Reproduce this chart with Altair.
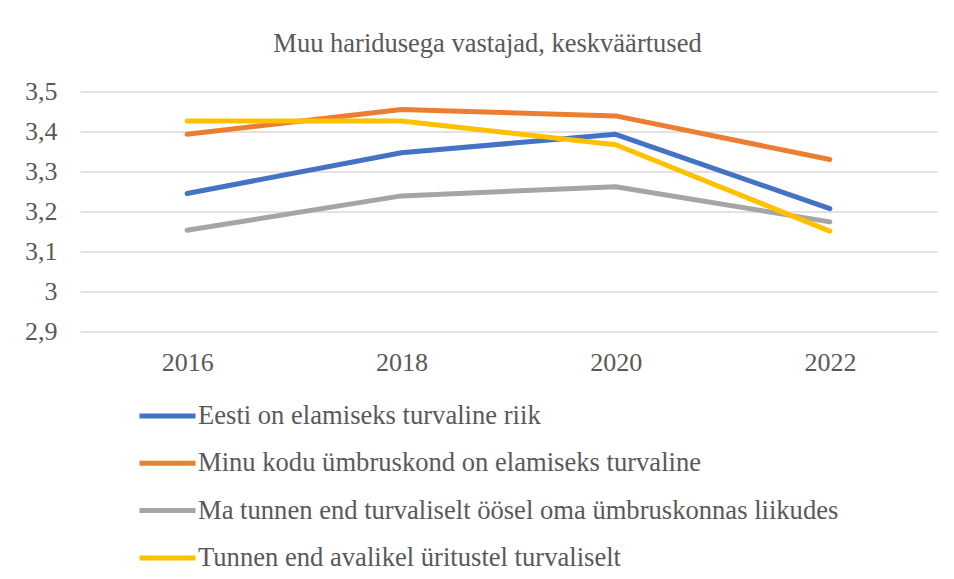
import altair as alt
import pandas as pd

years = ["2016", "2018", "2020", "2022"]
series = [
    "Eesti on elamiseks turvaline riik",
    "Minu kodu ümbruskond on elamiseks turvaline",
    "Ma tunnen end turvaliselt öösel oma ümbruskonnas liikudes",
    "Tunnen end avalikel üritustel turvaliselt",
]
eesti = [3.245, 3.347, 3.393, 3.207]
kodu = [3.393, 3.455, 3.439, 3.330]
oosel = [3.153, 3.239, 3.262, 3.174]
uritused = [3.426, 3.426, 3.367, 3.151]
colors = ["#4472C4", "#ED7D31", "#A5A5A5", "#FFC000"]

rows = []
for name, vals in zip(series, [eesti, kodu, oosel, uritused]):
    for y, v in zip(years, vals):
        rows.append({"Aasta": y, "Väide": name, "Keskväärtus": v})
df = pd.DataFrame(rows)

FONT = "Liberation Serif"
TXT = "#595959"

chart = alt.Chart(df).mark_line(strokeWidth=5, strokeCap="round", strokeJoin="round").encode(
    x=alt.X("Aasta:O", title=None,
            scale=alt.Scale(type="point", padding=0.5),
            axis=alt.Axis(labelAngle=0, ticks=False, domain=False, grid=False,
                          labelPadding=18, labelFontSize=26, labelFont=FONT, labelColor=TXT)),
    y=alt.Y("Keskväärtus:Q", title=None,
            scale=alt.Scale(domain=[2.9, 3.5], nice=False, zero=False),
            axis=alt.Axis(values=[2.9, 3.0, 3.1, 3.2, 3.3, 3.4, 3.5], ticks=False, domain=False,
                          gridColor="#D9D9D9", gridWidth=1.5, labelPadding=23,
                          labelFontSize=26, labelFont=FONT, labelColor=TXT,
                          labelExpr="replace(format(datum.value, '.1~f'), '.', ',')")),
    color=alt.Color("Väide:N", sort=series,
                    scale=alt.Scale(domain=series, range=colors),
                    legend=alt.Legend(title=None, orient="none", legendX=71, legendY=308,
                                      direction="vertical",
                                      symbolType="M-2,0H2", symbolSize=784, symbolStrokeWidth=5,
                                      labelFontSize=26.6, labelFont=FONT, labelColor=TXT,
                                      labelOffset=14, rowPadding=16.3, padding=0,
                                      labelLimit=900)),
).properties(
    width=857,
    height=240,
    title=alt.TitleParams("Muu haridusega vastajad, keskväärtused", font=FONT, fontSize=26.5,
                          fontWeight="normal", color=TXT, anchor="middle", dx=-21, offset=21),
    autosize=alt.AutoSizeParams(type="none"),
    padding={"left": 72, "top": 83.5, "right": 9, "bottom": 239},
).configure(background="white").configure_view(stroke=None)

chart.save("out.html", embed_options={"renderer": "svg", "actions": False})
